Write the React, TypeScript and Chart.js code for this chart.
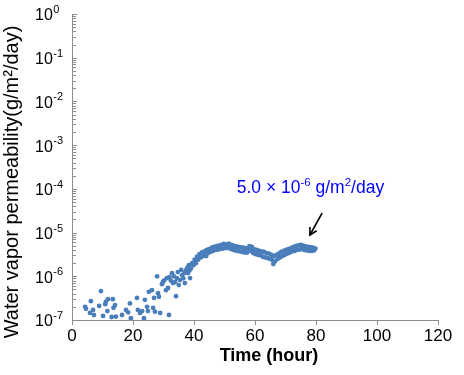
import React, { useEffect, useRef } from 'react';
import { Chart, registerables } from 'chart.js';

Chart.register(...registerables);

// ---- Data (hours, g/m²/day) ----
const hours: number[] = [
  4.3, 4.6, 5.9, 6.2, 6.9, 7.2, 8.9, 9.5, 10.2, 10.9, 11.1, 11.6, 11.8, 13.0, 13.4, 13.6, 14.1, 14.4,
  16.4, 17.7, 18.4, 19.0, 19.3, 21.3, 21.6, 22.3, 23.0, 23.6, 23.9, 24.6, 24.9, 25.2, 26.2, 26.6,
  26.9, 27.2, 27.9, 28.2, 28.5, 28.9, 29.5, 29.8, 30.2, 30.8, 31.1, 31.5, 31.8, 31.9, 32.4, 32.8,
  33.1, 33.4, 33.8, 34.1, 34.4, 34.7, 35.0, 35.4, 35.8, 36.1, 36.5, 36.9, 37.0, 37.4, 37.8, 38.0,
  38.3, 38.5, 38.7,
  39.0, 39.4, 39.8, 40.2, 40.6, 41.0, 41.4, 41.8, 42.2, 42.6, 43.0, 43.4, 43.8,
  44.0, 44.2, 44.6,
  45.0, 45.4, 45.8, 46.2, 46.6, 47.0, 47.4, 47.8, 48.2, 48.6, 49.0, 49.4, 49.8, 50.2, 50.6, 51.0,
  51.4, 51.8, 52.2, 52.6, 53.0, 53.4, 53.8, 54.2, 54.6, 55.0, 55.4, 55.8, 56.2, 56.6, 57.0, 57.4,
  57.8, 58.2, 58.6, 59.0, 59.4, 59.8, 60.2, 60.6, 61.0, 61.4, 61.8, 62.2, 62.6, 63.0, 63.4, 63.8,
  64.2, 64.6, 65.0, 65.4, 65.8,
  66.0,
  66.2, 66.6, 67.0, 67.4, 67.8, 68.2, 68.6, 69.0, 69.4, 69.8, 70.2, 70.6, 71.0, 71.4, 71.8, 72.2,
  72.6, 73.0, 73.4, 73.8, 74.2, 74.6, 75.0, 75.4, 75.8, 76.2, 76.6, 77.0, 77.4, 77.8, 78.2, 78.6,
  79.0, 79.4, 79.8,
];

const permeability: number[] = [
  2.0e-7, 1.8e-7, 1.45e-7, 2.7e-7, 1.7e-7, 1.3e-7, 2.1e-7, 4.6e-7, 1.24e-7, 2.3e-7, 2.6e-7, 1.6e-7, 3.0e-7, 1.17e-7, 3.0e-7, 1.9e-7, 2.2e-7, 1.2e-7,
  1.3e-7, 1.7e-7, 1.5e-7, 2.4e-7, 1.1e-7, 3.2e-7, 1.7e-7, 1.45e-7, 1.6e-7, 1.1e-7, 2.9e-7, 2.0e-7, 1.6e-7, 4.4e-7, 4.8e-7, 1.9e-7,
  3.2e-7, 1.55e-7, 1.0e-6, 4.1e-7, 3.4e-7, 1.45e-7, 6.6e-7, 7.4e-7, 8.0e-7, 4.8e-7, 9.1e-7, 5.4e-7, 1.3e-7, 9.6e-7, 8.0e-7, 1.18e-6,
  7.0e-7, 1.0e-6, 7.4e-7, 3.5e-7, 9.1e-7, 1.25e-6, 6.3e-7, 8.2e-7, 1.4e-6, 1.06e-6, 9.0e-7, 1.2e-6, 7.0e-7, 1.38e-6, 1.55e-6, 1.18e-6,
  1.8e-6, 1.35e-6, 9.1e-7,
  1.5e-6, 2.0e-6, 1.8e-6, 2.4e-6, 2.0e-6, 2.8e-6, 2.4e-6, 3.2e-6, 2.7e-6, 3.5e-6, 2.9e-6, 3.7e-6, 3.2e-6,
  2.9e-6, 4.0e-6, 3.4e-6,
  4.2e-6, 3.6e-6, 4.5e-6, 3.8e-6, 4.7e-6, 4.0e-6, 4.9e-6, 4.1e-6, 5.0e-6, 4.2e-6, 5.2e-6, 4.3e-6, 5.5e-6, 4.4e-6, 5.3e-6, 4.5e-6,
  5.6e-6, 4.3e-6, 5.2e-6, 4.1e-6, 5.0e-6, 3.9e-6, 4.8e-6, 3.8e-6, 4.7e-6, 3.7e-6, 4.6e-6, 3.6e-6, 4.5e-6, 3.5e-6, 4.4e-6, 3.5e-6,
  4.3e-6, 4.9e-6, 3.8e-6, 4.7e-6, 3.4e-6, 4.1e-6, 3.2e-6, 4.0e-6, 3.1e-6, 3.8e-6, 3.0e-6, 3.7e-6, 2.8e-6, 3.6e-6, 2.7e-6, 3.4e-6,
  2.6e-6, 3.3e-6, 2.5e-6, 3.1e-6, 2.3e-6,
  1.9e-6,
  2.9e-6, 2.2e-6, 3.1e-6, 2.5e-6, 3.3e-6, 2.7e-6, 3.6e-6, 2.9e-6, 3.8e-6, 3.1e-6, 4.0e-6, 3.3e-6, 4.2e-6, 3.5e-6, 4.4e-6, 3.7e-6,
  4.7e-6, 3.8e-6, 4.9e-6, 4.0e-6, 5.1e-6, 4.1e-6, 5.2e-6, 4.2e-6, 5.0e-6, 4.0e-6, 4.8e-6, 3.9e-6, 4.7e-6, 3.8e-6, 4.6e-6, 3.8e-6,
  4.5e-6, 3.9e-6, 4.3e-6,
];

// ---- Axes ----
const xMin = 0;
const xMax = 120;
const xStep = 20;
const yExponents: number[] = [0, -1, -2, -3, -4, -5, -6, -7];
const yMinorMultipliers: number[] = [2, 3, 4, 5, 6, 7, 8, 9];
const xTitle = 'Time (hour)';
const yTitle = 'Water vapor permeability(g/m²/day)';

// ---- Annotation ----
const annotationParts: { text: string; sup: boolean }[] = [
  { text: '5.0 × 10', sup: false },
  { text: '-6', sup: true },
  { text: ' g/m', sup: false },
  { text: '2', sup: true },
  { text: '/day', sup: false },
];
const annotationHour = 54;
const annotationValue = 1.1e-4;
const arrowFrom = { hour: 82, value: 2.8e-5 };
const arrowTo = { hour: 78, value: 8.8e-6 };

const FONT = "'Liberation Sans', Arial, Helvetica, sans-serif";
const AXIS_COLOR = '#8c8c8c';
const POINT_COLOR = '#4a7ebb';

const overlayPlugin = {
  id: 'overlay',
  afterDraw(chart: any) {
    const { ctx, chartArea, scales } = chart;
    const xs = scales.x;
    const ys = scales.y;
    ctx.save();

    // y tick marks (inside)
    ctx.strokeStyle = AXIS_COLOR;
    ctx.lineWidth = 1;
    const left = Math.round(chartArea.left);
    for (const e of yExponents) {
      const py = Math.round(ys.getPixelForValue(Math.pow(10, e))) + 0.5;
      ctx.beginPath();
      ctx.moveTo(left, py);
      ctx.lineTo(left + 5, py);
      ctx.stroke();
      if (e === 0) continue;
      for (const m of yMinorMultipliers) {
        const pm = Math.round(ys.getPixelForValue(m * Math.pow(10, e))) + 0.5;
        ctx.beginPath();
        ctx.moveTo(left, pm);
        ctx.lineTo(left + 4, pm);
        ctx.stroke();
      }
    }

    // y tick labels with superscripts
    ctx.fillStyle = '#000';
    ctx.textBaseline = 'middle';
    ctx.textAlign = 'left';
    for (const e of yExponents) {
      const py = ys.getPixelForValue(Math.pow(10, e));
      const lx = 35;
      ctx.font = `16px ${FONT}`;
      ctx.fillText('10', lx, py + 2);
      const w = ctx.measureText('10').width;
      ctx.font = `11px ${FONT}`;
      ctx.fillText(String(e), lx + w + 0.5, py - 4);
    }

    // y title
    ctx.save();
    ctx.translate(12, 182);
    ctx.rotate(-Math.PI / 2);
    ctx.font = `20px ${FONT}`;
    ctx.textAlign = 'center';
    ctx.textBaseline = 'middle';
    ctx.fillStyle = '#000';
    ctx.fillText(yTitle, 0, 0);
    ctx.restore();

    // x title
    ctx.font = `bold 18px ${FONT}`;
    ctx.textAlign = 'center';
    ctx.textBaseline = 'middle';
    ctx.fillStyle = '#000';
    ctx.fillText(xTitle, (chartArea.left + chartArea.right) / 2 + 14, 356);

    // annotation text
    let ax = xs.getPixelForValue(annotationHour);
    const ay = ys.getPixelForValue(annotationValue);
    ctx.fillStyle = '#0000ff';
    ctx.textAlign = 'left';
    ctx.textBaseline = 'alphabetic';
    for (const p of annotationParts) {
      ctx.font = p.sup ? `11.5px ${FONT}` : `17.5px ${FONT}`;
      ctx.fillText(p.text, ax, p.sup ? ay - 1 : ay + 6);
      ax += ctx.measureText(p.text).width;
    }

    // arrow
    const x1 = xs.getPixelForValue(arrowFrom.hour);
    const y1 = ys.getPixelForValue(arrowFrom.value);
    const x2 = xs.getPixelForValue(arrowTo.hour);
    const y2 = ys.getPixelForValue(arrowTo.value);
    ctx.strokeStyle = '#000';
    ctx.lineWidth = 1.6;
    ctx.beginPath();
    ctx.moveTo(x1, y1);
    ctx.lineTo(x2, y2);
    ctx.stroke();
    const ang = Math.atan2(y2 - y1, x2 - x1);
    const len = 8;
    ctx.beginPath();
    ctx.moveTo(x2 - len * Math.cos(ang - 0.5), y2 - len * Math.sin(ang - 0.5));
    ctx.lineTo(x2, y2);
    ctx.lineTo(x2 - len * Math.cos(ang + 0.5), y2 - len * Math.sin(ang + 0.5));
    ctx.stroke();

    ctx.restore();
  },
};

export default function App() {
  const ref = useRef<HTMLCanvasElement | null>(null);

  useEffect(() => {
    if (!ref.current) return;
    const points = hours.map((h, i) => ({ x: h, y: permeability[i] }));
    const chart = new Chart(ref.current, {
      type: 'scatter',
      data: {
        datasets: [
          {
            data: points,
            backgroundColor: POINT_COLOR,
            borderColor: POINT_COLOR,
            borderWidth: 0,
            pointRadius: 2.4,
            pointHoverRadius: 2.4,
          },
        ],
      },
      options: {
        responsive: false,
        animation: false,
        devicePixelRatio: 1,
        layout: { padding: { left: 0, right: 26, top: 14, bottom: 0 } },
        plugins: {
          legend: { display: false },
          tooltip: { enabled: false },
        },
        scales: {
          x: {
            type: 'linear',
            min: xMin,
            max: xMax,
            ticks: {
              stepSize: xStep,
              color: '#000',
              font: { family: FONT, size: 17 },
              padding: 1,
              maxRotation: 0,
            },
            grid: {
              drawOnChartArea: false,
              drawTicks: true,
              tickLength: 5,
              color: AXIS_COLOR,
            },
            border: { display: true, color: AXIS_COLOR, width: 1 },
            title: { display: false },
            afterFit: (s: any) => {
              s.height = 55;
            },
          },
          y: {
            type: 'logarithmic',
            min: Math.pow(10, yExponents[yExponents.length - 1]),
            max: Math.pow(10, yExponents[0]),
            ticks: { display: false },
            grid: { display: false },
            border: { display: true, color: AXIS_COLOR, width: 1 },
            afterFit: (s: any) => {
              s.width = 72;
            },
          },
        },
      },
      plugins: [overlayPlugin],
    } as any);
    return () => chart.destroy();
  }, []);

  return (
    <div style={{ position: 'absolute', left: 0, top: 0, width: 464, height: 375, background: '#fff' }}>
      <canvas ref={ref} width={464} height={375} style={{ display: 'block' }} />
    </div>
  );
}
